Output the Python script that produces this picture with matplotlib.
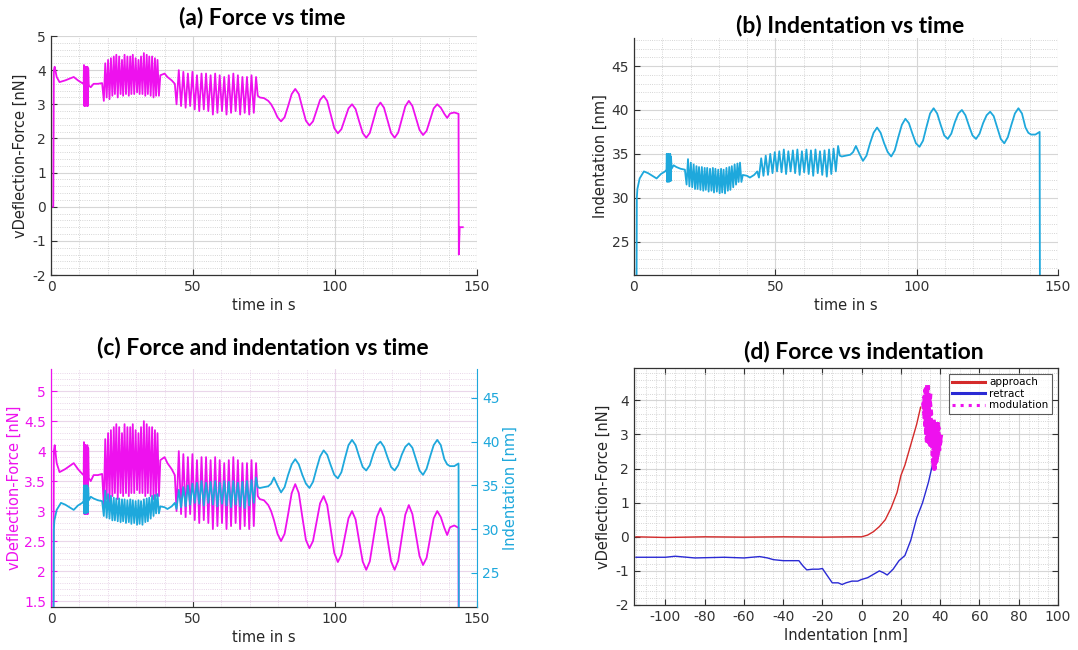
import numpy as np
import matplotlib as mpl
mpl.use('Agg')
import matplotlib.pyplot as plt
from matplotlib.ticker import MultipleLocator, FormatStrFormatter

plt.rcParams['axes.unicode_minus'] = False
plt.rcParams['font.family'] = 'DejaVu Sans'

MAG = '#ee11ee'
CYAN = '#1ea8dc'

# ---- time series ----
# start of the force trace
f_pre_t = [0.0, 0.8, 1.0, 1.3, 2.0, 3.0, 5.0, 8.0, 9.5, 11.0, 11.5]
f_pre = [0.0, 0.0, 4.0, 4.1, 3.8, 3.65, 3.7, 3.8, 3.7, 3.62, 3.6]
# start of the indentation trace
d_pre_t = [0.9, 1.0, 1.2, 2.0, 3.5, 5.0, 6.5, 8.0, 9.5, 11.0, 11.5]
d_pre = [20.0, 30.0, 31.0, 32.2, 33.0, 32.8, 32.5, 32.2, 32.7, 33.0, 33.2]

# short burst around 12 s
burst_t = [11.6, 11.75, 11.9, 12.05, 12.2, 12.35, 12.5, 12.65, 12.8, 12.95, 13.1]
f_burst = [4.15, 2.95, 4.1, 2.95, 4.1, 3.0, 4.05, 2.95, 4.1, 2.95, 4.05]
d_burst = [35.0, 31.8, 34.9, 31.9, 35.0, 31.8, 34.8, 32.0, 35.0, 31.9, 34.7]

gap1_t = [13.3, 14.0, 15.0, 16.5, 18.0]
f_gap1 = [3.55, 3.5, 3.6, 3.6, 3.62]
d_gap1 = [33.3, 33.7, 33.5, 33.3, 33.2]

# fast modulation 18-38 s (extrema)
fast1_t = [18.6, 19.1, 19.6, 20.1, 20.6, 21.1, 21.6, 22.1, 22.5, 23.0,
           23.5, 24.0, 24.5, 25.0, 25.4, 25.9, 26.4, 26.9, 27.4, 27.9,
           28.3, 28.8, 29.3, 29.8, 30.3, 30.8, 31.2, 31.7, 32.2, 32.7,
           33.2, 33.7, 34.1, 34.6, 35.1, 35.6, 36.1, 36.6, 37.0, 37.5]
f_fast1 = [3.1, 4.2, 3.2, 4.3, 3.15, 4.35, 3.25, 4.4, 3.3, 4.45,
           3.2, 4.4, 3.3, 4.3, 3.25, 4.45, 3.3, 4.4, 3.25, 4.4,
           3.3, 4.45, 3.3, 4.35, 3.35, 4.3, 3.3, 4.4, 3.3, 4.5,
           3.25, 4.45, 3.3, 4.4, 3.25, 4.4, 3.2, 4.35, 3.25, 4.3]
d_fast1 = [31.5, 34.4, 31.3, 34.0, 31.2, 33.8, 31.0, 33.6, 31.0, 33.5,
           30.9, 33.5, 30.8, 33.4, 30.9, 33.4, 30.7, 33.3, 30.8, 33.4,
           30.6, 33.3, 30.7, 33.2, 30.5, 33.3, 30.6, 33.2, 30.5, 33.4,
           30.8, 33.5, 30.9, 33.6, 31.2, 33.8, 31.5, 33.9, 31.8, 34.0]

gap2_t = [38.0, 38.5, 40.0, 41.0, 42.5, 43.6]
f_gap2 = [3.25, 3.85, 3.9, 3.8, 3.7, 3.6]
d_gap2 = [31.8, 32.6, 32.5, 32.3, 32.6, 33.0]

# second modulation 44-73 s (extrema)
fast2_t = [44.2, 45.0, 45.8, 46.6, 47.4, 48.2, 49.0, 49.8, 50.6, 51.4,
           52.2, 53.0, 53.8, 54.6, 55.4, 56.2, 57.0, 57.8, 58.6, 59.4,
           60.2, 61.0, 61.8, 62.6, 63.4, 64.2, 65.0, 65.8, 66.6, 67.4,
           68.2, 69.0, 69.8, 70.6, 71.4, 72.2]
f_fast2 = [3.0, 4.0, 2.95, 3.95, 2.9, 3.9, 2.95, 3.95, 2.85, 3.85,
           2.8, 3.9, 2.85, 3.9, 2.8, 3.85, 2.7, 3.9, 2.75, 3.85,
           2.8, 3.8, 2.7, 3.85, 2.75, 3.9, 2.8, 3.85, 2.7, 3.8,
           2.75, 3.8, 2.7, 3.85, 2.75, 3.8]
d_fast2 = [32.3, 34.5, 32.5, 34.8, 32.6, 35.0, 32.8, 35.2, 33.0, 35.3,
           32.9, 35.5, 32.7, 35.3, 33.0, 35.4, 32.8, 35.5, 32.6, 35.3,
           32.9, 35.5, 32.7, 35.4, 32.5, 35.5, 32.8, 35.3, 32.6, 35.4,
           32.4, 35.5, 32.7, 35.6, 33.0, 35.9]

gap3_t = [72.8, 73.5, 75.0, 76.5]
f_gap3 = [3.25, 3.2, 3.18, 3.1]
d_gap3 = [34.8, 34.7, 34.8, 34.9]

# slow modulation 77-143 s
slow_t = [77.5, 78.5, 79.75, 81, 82.25, 83.5, 84.75, 86, 87.25, 88.5,
          89.75, 91, 92.25, 93.5, 94.75, 96, 97.25, 98.5, 99.75, 101,
          102.25, 103.5, 104.75, 106, 107.25, 108.5, 109.75, 111, 112.25, 113.5,
          114.75, 116, 117.25, 118.5, 119.75, 121, 122.25, 123.5, 124.75, 126,
          127.25, 128.5, 129.75, 131, 132.25, 133.5, 134.75, 136, 137.25, 138.5,
          139.5, 140.5, 142.0, 143.5]
f_slow = [3.0, 2.85, 2.62, 2.5, 2.62, 2.95, 3.3, 3.45, 3.3, 2.9,
          2.52, 2.38, 2.5, 2.82, 3.13, 3.25, 3.1, 2.7, 2.3, 2.15,
          2.27, 2.58, 2.88, 3.0, 2.86, 2.5, 2.16, 2.02, 2.16, 2.53,
          2.9, 3.05, 2.9, 2.53, 2.16, 2.02, 2.17, 2.56, 2.94, 3.1,
          2.95, 2.6, 2.25, 2.1, 2.22, 2.55, 2.88, 3.0, 2.9, 2.72,
          2.6, 2.73, 2.76, 2.72]
d_slow = [35.2, 35.9, 35.0, 34.2, 34.8, 36.2, 37.4, 38.0, 37.4, 36.2,
          35.2, 34.7, 35.4, 36.9, 38.3, 39.0, 38.5, 37.3, 36.2, 35.8,
          36.5, 38.1, 39.6, 40.2, 39.6, 38.3, 37.1, 36.7, 37.3, 38.6,
          39.6, 40.0, 39.4, 38.2, 37.1, 36.7, 37.3, 38.5, 39.4, 39.8,
          39.3, 38.0, 36.7, 36.2, 36.9, 38.3, 39.6, 40.2, 39.6, 38.0,
          37.4, 37.2, 37.2, 37.5]

f_end_t = [143.6, 143.9, 145.0]
f_end = [-1.4, -0.6, -0.6]
d_end_t = [143.6]
d_end = [20.0]

# ---- force vs indentation ----
appr_x = [-115, -100, -80, -60, -40, -20, -5, 0, 3, 6, 9, 12, 15, 18, 20, 22, 25, 28, 30]
appr_y = [0.0, -0.02, 0.0, -0.01, 0.0, -0.01, 0.0, 0.0, 0.05, 0.15, 0.3, 0.5, 0.85, 1.3,
          1.8, 2.1, 2.7, 3.3, 3.8]
retr_x = [-115, -100, -95, -85, -70, -60, -52, -48, -45, -40, -35, -32, -30, -28, -25,
          -22, -20, -18, -15, -12, -10, -8, -5, -2, 0, 3, 6, 9, 11, 13, 16, 19, 22,
          25, 28, 31, 34, 36, 37]
retr_y = [-0.6, -0.6, -0.57, -0.62, -0.6, -0.62, -0.58, -0.62, -0.67, -0.7, -0.7, -0.7,
          -0.85, -0.97, -0.95, -0.95, -0.93, -1.1, -1.35, -1.35, -1.4, -1.35, -1.3, -1.3,
          -1.25, -1.2, -1.1, -1.0, -1.05, -1.12, -0.95, -0.7, -0.55, -0.1, 0.55, 1.0,
          1.6, 2.1, 2.3]
mod_x = [33.5, 34.5, 32.0, 35.0, 31.5, 35.3, 32.5, 34.0, 31.8, 35.5, 33.0, 33.5, 32.3,
         35.2, 34.5, 33.2, 34.8, 32.6, 35.4, 36.5, 37.0, 35.5, 38.5, 36.0, 39.5, 37.5,
         40.0, 36.8, 39.0, 36.0, 40.3, 37.8, 38.5, 36.4, 39.6]
mod_y = [4.45, 2.9, 4.1, 2.7, 3.9, 3.0, 4.3, 2.8, 3.7, 3.2, 4.4, 2.75, 3.5,
         3.6, 4.0, 3.1, 4.2, 3.3, 2.9, 3.45, 2.0, 3.0, 2.3, 3.3, 2.5, 3.35,
         2.8, 2.1, 3.2, 2.6, 3.0, 2.2, 3.4, 2.4, 2.9]

force_t = np.concatenate([f_pre_t, burst_t, gap1_t, fast1_t, gap2_t, fast2_t, gap3_t, slow_t, f_end_t])
force = np.concatenate([f_pre, f_burst, f_gap1, f_fast1, f_gap2, f_fast2, f_gap3, f_slow, f_end])
ind_t = np.concatenate([d_pre_t, burst_t, gap1_t, fast1_t, gap2_t, fast2_t, gap3_t, slow_t, d_end_t])
ind = np.concatenate([d_pre, d_burst, d_gap1, d_fast1, d_gap2, d_fast2, d_gap3, d_slow, d_end])

W, H = 1078, 650
fig = plt.figure(figsize=(W / 100, H / 100), dpi=100)


def box(l, t, r, b):
    return [l / W, 1 - b / H, (r - l) / W, (b - t) / H]


def style(ax, xmaj, xmin, ymaj, ymin, gcol='#d6d6d6', mcol='#c8c8c8', frame=False):
    ax.xaxis.set_major_locator(MultipleLocator(xmaj))
    ax.xaxis.set_minor_locator(MultipleLocator(xmin))
    ax.yaxis.set_major_locator(MultipleLocator(ymaj))
    ax.yaxis.set_minor_locator(MultipleLocator(ymin))
    ax.yaxis.set_major_formatter(FormatStrFormatter('%g'))
    ax.grid(True, which='major', color=gcol, lw=0.8)
    ax.grid(True, which='minor', color=mcol, lw=0.6, ls=':')
    ax.set_axisbelow(True)
    ax.tick_params(which='both', direction='in', labelsize=10, colors='#333333')
    ax.tick_params(which='major', length=4)
    ax.tick_params(which='minor', length=0)
    for s in ['left', 'bottom', 'top', 'right']:
        ax.spines[s].set_color('#333333')
        ax.spines[s].set_linewidth(0.9)
    if not frame:
        ax.spines['top'].set_visible(False)
        ax.spines['right'].set_visible(False)
    else:
        ax.tick_params(which='major', top=True, right=True)


def ylab_at(ax, px, l, r):
    # px is the wanted centre of the rotated label
    ax.yaxis.set_label_coords((px - l) / (r - l), 0.5)


def title(x, y, s):
    fig.text(x / W, 1 - y / H, s, ha='center', va='center', fontsize=16.5,
             fontweight='bold', family='Lato')


# (a) force vs time
L, R = 51, 477
ax1 = fig.add_axes(box(L, 36, R, 275))
ax1.plot(force_t, force, color=MAG, lw=1.3)
ax1.set_xlim(0, 150)
ax1.set_ylim(-2, 5)
style(ax1, 50, 10, 1, 0.2)
ax1.set_xlabel('time in s', fontsize=10.5, color='#262626', labelpad=3)
ax1.set_ylabel('vDeflection-Force [nN]', fontsize=10.5, color='#262626')
ylab_at(ax1, 28, L, R)
title(262, 18, '(a) Force vs time')

# (b) indentation vs time
L2, R2 = 634, 1058
ax2 = fig.add_axes(box(L2, 38, R2, 275))
ax2.plot(ind_t, ind, color=CYAN, lw=1.3)
ax2.set_xlim(0, 150)
ax2.set_ylim(21.2, 48.2)
style(ax2, 50, 10, 5, 1)
ax2.set_xlabel('time in s', fontsize=10.5, color='#262626', labelpad=3)
ax2.set_ylabel('Indentation [nm]', fontsize=10.5, color='#262626')
ylab_at(ax2, 608, L2, R2)
title(850, 25, '(b) Indentation vs time')

# (c) force and indentation vs time
ax3 = fig.add_axes(box(L, 369, R, 607))
ax3.plot(force_t, force, color=MAG, lw=1.3)
ax3.set_xlim(0, 150)
ax3.set_ylim(1.4, 5.37)
style(ax3, 50, 10, 0.5, 0.1, gcol='#ead6ea', mcol='#e2c8e2')
ax3.spines['left'].set_color(MAG)
ax3.tick_params(axis='y', colors=MAG)
ax3.set_xlabel('time in s', fontsize=10.5, color='#262626', labelpad=3)
ax3.set_ylabel('vDeflection-Force [nN]', fontsize=10.5, color=MAG)
ylab_at(ax3, 22, L, R)
ax3b = ax3.twinx()
ax3b.plot(ind_t, ind, color=CYAN, lw=1.3)
ax3b.set_ylim(21.1, 48.3)
ax3b.yaxis.set_major_locator(MultipleLocator(5))
ax3b.tick_params(direction='in', length=4, labelsize=10, colors=CYAN)
for s in ['top', 'left', 'bottom']:
    ax3b.spines[s].set_visible(False)
ax3b.spines['right'].set_color(CYAN)
ax3b.set_ylabel('Indentation [nm]', fontsize=10.5, color=CYAN)
ylab_at(ax3b, 503, L, R)
title(263, 348, '(c) Force and indentation vs time')

# (d) force vs indentation
ax4 = fig.add_axes(box(L2, 368, R2, 605))
ax4.plot(appr_x, appr_y, color='#d42a2a', lw=1.0, label='approach')
ax4.plot(retr_x, retr_y, color='#2a2ad4', lw=1.0, label='retract')
ax4.plot(mod_x, mod_y, color=MAG, lw=3.5, ls=(0, (1, 0.6)), label='modulation')
ax4.set_xlim(-116, 100)
ax4.set_ylim(-2, 4.95)
style(ax4, 20, 5, 1, 0.2, frame=True)
ax4.set_xlabel('Indentation [nm]', fontsize=10.5, color='#262626', labelpad=3)
ax4.set_ylabel('vDeflection-Force [nN]', fontsize=10.5, color='#262626')
ylab_at(ax4, 611, L2, R2)
leg = ax4.legend(loc='upper right', fontsize=7.5, handlelength=3.2, frameon=True,
                 fancybox=False, borderaxespad=0.6, labelspacing=0.15,
                 borderpad=0.3, handletextpad=0.4)
leg.get_frame().set_edgecolor('#333333')
leg.get_frame().set_linewidth(0.8)
for h in leg.get_lines():
    h.set_linewidth(2.2)
leg.get_lines()[2].set_linestyle(':')
title(864, 352, '(d) Force vs indentation')

fig.savefig('out.png', dpi=100, facecolor='white')
